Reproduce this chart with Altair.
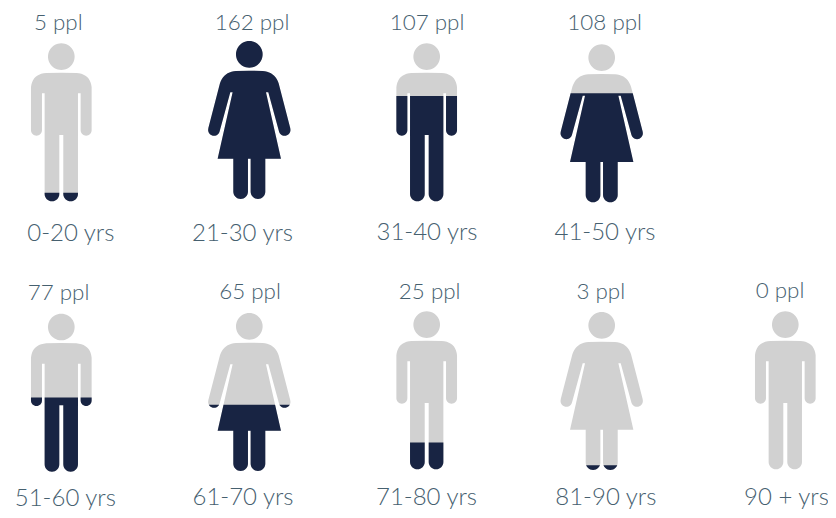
import math
import altair as alt
import pandas as pd

# Values
people = [5, 162, 107, 108, 77, 65, 25, 3, 0]
age_groups = ["0-20 yrs", "21-30 yrs", "31-40 yrs", "41-50 yrs", "51-60 yrs",
              "61-70 yrs", "71-80 yrs", "81-90 yrs", "90 + yrs"]
figure_kind = ["man", "woman", "man", "woman", "man", "woman", "man", "woman", "man"]
fill_share = [0.054, 1.0, 0.666, 0.69, 0.47, 0.42, 0.169, 0.03, 0.0]

# Layout (page pixels)
fig_x = [61.3, 249.3, 426.7, 601.7, 61.3, 249.3, 426.7, 601.7, 785.3]
fig_top = [43.3, 41.0, 43.3, 44.3, 313.7, 313.0, 311.3, 312.0, 311.3]
people_x = [58.3, 252, 427, 604.7, 58.5, 250, 429.7, 600.8, 780]
people_y = [30.4, 30.4, 30.4, 30.4, 300, 299.3, 299, 299, 298.3]
age_x = [70.8, 242.5, 427, 605, 65.3, 243, 426.5, 605.8, 786.5]
age_y = [240.7, 240.7, 240, 240, 505.5, 505, 505, 505, 505]

HEIGHT = 158.0
U = 1 / 3.0  # silhouette outlines below are noted at 3x pixels


def bez(p0, c, p1, n=10):
    return [((1 - t) ** 2 * p0[0] + 2 * t * (1 - t) * c[0] + t * t * p1[0],
             (1 - t) ** 2 * p0[1] + 2 * t * (1 - t) * c[1] + t * t * p1[1])
            for t in [i / n for i in range(n + 1)]]


def arc(cx, cy, r, a0, a1, n=14):
    return [(cx + r * math.cos(math.radians(a0 + (a1 - a0) * i / n)),
             cy + r * math.sin(math.radians(a0 + (a1 - a0) * i / n)))
            for i in range(n + 1)]


def man_half():
    pts = [(0, 88)]
    pts += bez((-45, 89), (-87, 92), (-91, 132))
    pts += [(-91, 260.5)]
    pts += arc(-74.5, 260.5, 16.5, 180, 90, 8) + arc(-74.5, 260.5, 16.5, 90, 0, 8)
    pts += [(-58, 150), (-50, 150), (-50, 452)]
    pts += arc(-28, 452, 22, 180, 90, 8) + arc(-28, 452, 22, 90, 0, 8)
    pts += [(-6, 275), (0, 275)]
    return pts


def woman_half():
    pts = [(0, 89)]
    pts += bez((-40, 90), (-76, 92), (-88, 127))
    pts += [(-123, 262)]
    pts += arc(-106, 267, 17.5, 195, 90, 9) + arc(-106, 267, 17.5, 90, 15, 7)
    pts += [(-57, 154), (-50, 154), (-95, 353), (-48, 353), (-48, 452)]
    pts += arc(-26, 452, 22, 180, 90, 8) + arc(-26, 452, 22, 90, 0, 8)
    pts += [(-4, 353), (0, 353)]
    return pts


def outline(half):
    right = [(-x, y) for x, y in reversed(half)]
    return [(x * U, y * U) for x, y in half + right]


HEAD = [(40 * math.cos(2 * math.pi * i / 48) * U, (40 + 40 * math.sin(2 * math.pi * i / 48)) * U)
        for i in range(48)]
BODY = {"man": outline(man_half()), "woman": outline(woman_half())}


def clip_below(poly, level):
    out = []
    for i, a in enumerate(poly):
        b = poly[(i + 1) % len(poly)]
        ina, inb = a[1] >= level, b[1] >= level
        if ina:
            out.append(a)
        if ina != inb:
            t = (level - a[1]) / (b[1] - a[1])
            out.append((a[0] + t * (b[0] - a[0]), level))
    return out


def to_path(polys):
    parts = []
    for poly in polys:
        if len(poly) > 2:
            parts.append("M" + "L".join(f"{x:.2f},{y:.2f}" for x, y in poly) + "Z")
    return "".join(parts)


rows = []
for i, kind in enumerate(figure_kind):
    level = HEIGHT * (1 - fill_share[i])
    rows.append({
        "x": fig_x[i], "y": fig_top[i],
        "base": to_path([HEAD, BODY[kind]]),
        "level": to_path([clip_below(HEAD, level), clip_below(BODY[kind], level)]) if fill_share[i] > 0 else "",
        "people": f"{people[i]} ppl", "age": age_groups[i],
        "px": people_x[i], "py": people_y[i], "ax": age_x[i], "ay": age_y[i],
    })
df = pd.DataFrame(rows)

W, H = 820, 502
xs = alt.Scale(domain=[8, 8 + W], range=[0, W], nice=False, zero=False)
ys = alt.Scale(domain=[8, 8 + H], range=[0, H], nice=False, zero=False)
GRAY, NAVY, TEXT = "#d1d1d1", "#182443", "#46606f"


def figure(field, color, data):
    return alt.Chart(data).mark_point(filled=True, opacity=1, strokeWidth=0).encode(
        x=alt.X("x:Q", scale=xs, axis=None),
        y=alt.Y("y:Q", scale=ys, axis=None),
        shape=alt.Shape(f"{field}:N", scale=None, legend=None),
        size=alt.value(4),
        color=alt.value(color),
    )


def label(field, xf, yf, size):
    return alt.Chart(df).mark_text(font="Lato", fontWeight=300, fontSize=size, color=TEXT,
                                   align="center", baseline="alphabetic").encode(
        x=alt.X(f"{xf}:Q", scale=xs, axis=None),
        y=alt.Y(f"{yf}:Q", scale=ys, axis=None),
        text=alt.Text(f"{field}:N"),
    )


chart = alt.layer(
    figure("base", GRAY, df),
    figure("level", NAVY, df[df["level"] != ""]),
    label("people", "px", "py", 22.4),
    label("age", "ax", "ay", 24),
).properties(width=W, height=H, padding=0, autosize=alt.AutoSizeParams(type="none"),
             background="white").configure_view(stroke=None)

chart.save("out.html", embed_options={"renderer": "svg", "actions": False})
